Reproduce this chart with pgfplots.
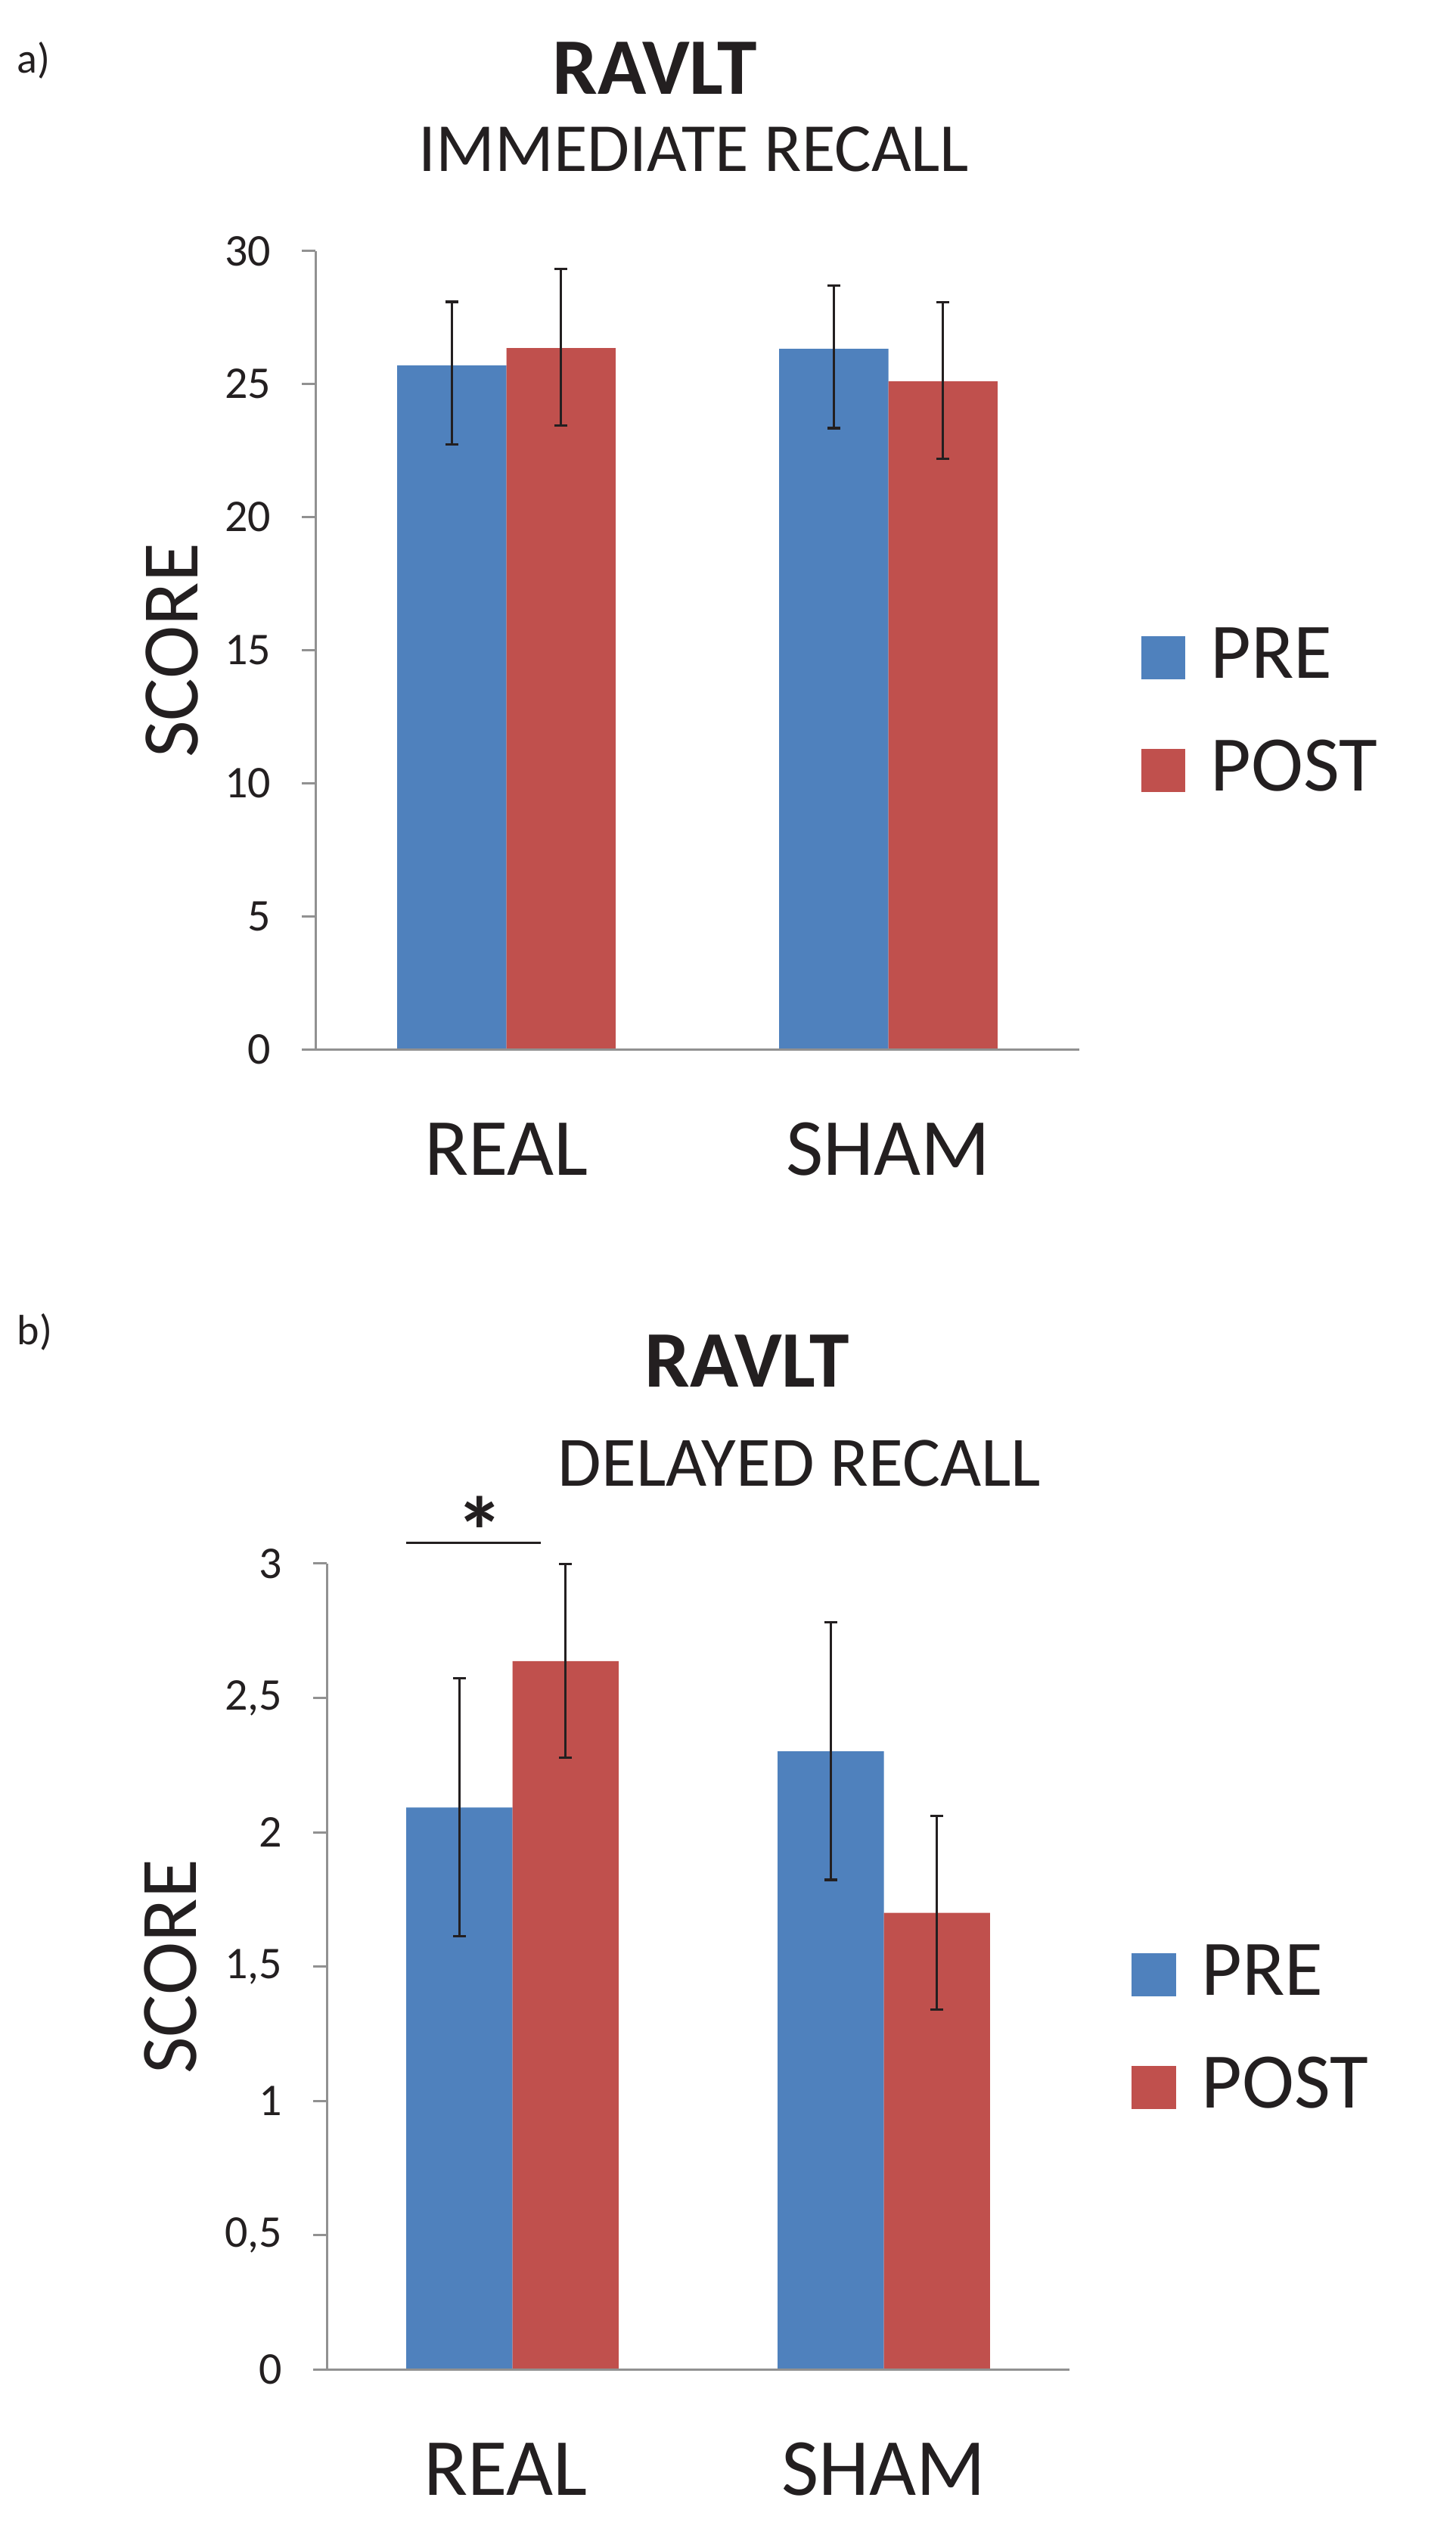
\documentclass[border=0pt]{standalone}
\usepackage{pgfplots}
\pgfplotsset{compat=1.18}
\usepackage{fontspec}
\setmainfont{Carlito}

\definecolor{preblue}{RGB}{79,129,189}
\definecolor{postred}{RGB}{192,80,77}
\definecolor{axisgray}{RGB}{145,145,145}
\definecolor{textc}{RGB}{35,31,32}
\newcommand\fs[1]{\fontsize{#1}{#1}\selectfont}

\pgfplotsset{
  ravlt/.style={
    scale only axis,
    axis on top,
    ybar,
    xmin=-0.5, xmax=1.5, ymin=0,
    enlarge x limits=false, enlarge y limits=false,
    axis x line=bottom, axis y line=left,
    axis line style={draw=axisgray, line width=0.75pt, -},
    tick align=outside,
    major tick length=4.5pt,
    ytick style={draw=axisgray, line width=0.75pt},
    xtick style={draw=none},
    xtick={0,1}, xticklabels={REAL,SHAM},
    xticklabel style={font=\fs{26.8}, text=textc, anchor=base, yshift=-37pt},
    yticklabel style={font=\fs{15}, text=textc, anchor=east, inner sep=0pt, xshift=-10pt},
    bar width=0.2857,
    clip=false,
    legend cell align=left,
    legend style={draw=none, fill=none, anchor=north west, inner sep=0pt,
      font=\fs{26}, text=textc, nodes={inner sep=0pt}, column sep=8.35pt},
  },
  sq/.style={legend image code/.code={\fill[##1] (0pt,-8.05pt) rectangle (14.7pt,6.25pt);}},
  eb/.style={
    error bars/y dir=both, error bars/y explicit,
    error bars/error bar style={textc, line width=0.8pt},
    error bars/error mark options={textc, line width=0.8pt, mark size=2.1pt, rotate=90},
  },
}

\begin{document}
\begin{tikzpicture}
\path[use as bounding box] (0,0) rectangle (481.25pt,-839.75pt);

% a) immediate recall
\node[anchor=base west, font=\fs{14}, text=textc, inner sep=0pt] at (5.5pt,-24.25pt) {a)};
\node[anchor=base, font=\bfseries\fs{26.5}, text=textc, inner sep=0pt] at (216.5pt,-31.1pt) {RAVLT};
\node[anchor=base, font=\fs{22.75}, text=textc, inner sep=0pt] at (229.4pt,-56.6pt) {IMMEDIATE RECALL};
\node[rotate=90, anchor=base, font=\fs{26.5}, text=textc, inner sep=0pt] at (65.4pt,-215pt) {SCORE};

\begin{axis}[ravlt,
  at={(104.25pt,-346.75pt)}, anchor=south west,
  width=252.5pt, height=263.8pt,
  ymax=30, ytick={0,5,10,15,20,25,30},
  yticklabels={0,5,10,15,20,25,30},
  legend style={at={(1.0799,0.529)}, row sep=18.9pt},
]
\addplot[fill=preblue, draw=none, bar shift=-0.14285, sq, eb] coordinates {
  (0,25.70) += (0,2.39) -= (0,2.97)
  (1,26.32) += (0,2.39) -= (0,2.98)
};
\addplot[fill=postred, draw=none, bar shift=0.14285, sq, eb] coordinates {
  (0,26.35) += (0,2.98) -= (0,2.92)
  (1,25.10) += (0,2.98) -= (0,2.92)
};
\legend{PRE,POST}
\end{axis}

% b) delayed recall
\node[anchor=base west, font=\fs{14}, text=textc, inner sep=0pt] at (5.5pt,-444.4pt) {b)};
\node[anchor=base, font=\bfseries\fs{26.5}, text=textc, inner sep=0pt] at (247pt,-458.25pt) {RAVLT};
\node[anchor=base, font=\fs{23.4}, text=textc, inner sep=0pt] at (264.25pt,-491pt) {DELAYED RECALL};
\node[rotate=90, anchor=base, font=\fs{26.5}, text=textc, inner sep=0pt] at (64.75pt,-650pt) {SCORE};

\begin{axis}[ravlt,
  at={(108pt,-783.1pt)}, anchor=south west,
  width=245.5pt, height=266.4pt,
  ymax=3, ytick={0,0.5,1,1.5,2,2.5,3},
  yticklabels={0,{0,5},1,{1,5},2,{2,5},3},
  xticklabels={\hspace*{-4.5pt}REAL,SHAM},
  legend style={at={(1.0829,0.528)}, row sep=19pt},
]
\addplot[fill=preblue, draw=none, bar shift=-0.14285, sq, eb] coordinates {
  (0,2.092) += (0,0.480) -= (0,0.480)
  (1,2.301) += (0,0.481) -= (0,0.478)
};
\addplot[fill=postred, draw=none, bar shift=0.14285, sq, eb] coordinates {
  (0,2.637) += (0,0.361) -= (0,0.359)
  (1,1.700) += (0,0.361) -= (0,0.359)
};
\legend{PRE,POST}
\draw[textc, line width=0.7pt] (axis cs:-0.2857,3.077) -- (axis cs:0.0758,3.077);
\node[font=\bfseries\fs{32}, text=textc, inner sep=0pt] at (axis cs:-0.0872,3.122) {*};
\end{axis}
\end{tikzpicture}
\end{document}
